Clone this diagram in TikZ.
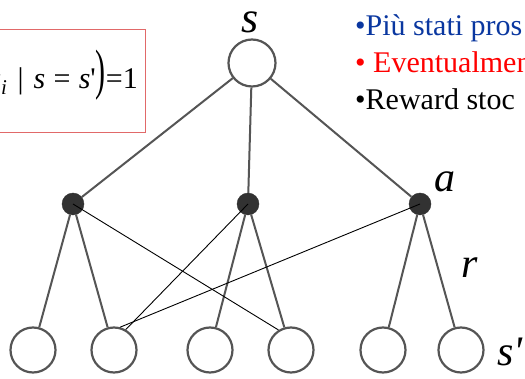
\documentclass[tikz,border=0pt]{standalone}
\usepackage{fontspec}
\setmainfont{Liberation Serif}
\usepackage{graphicx}
\definecolor{edgegray}{RGB}{85,85,85}
\definecolor{actfill}{RGB}{50,50,50}
\definecolor{boxred}{RGB}{225,105,105}
\definecolor{txtblue}{RGB}{10,55,160}
\definecolor{txtred}{RGB}{255,0,0}
\begin{document}
\begin{tikzpicture}[x=1pt,y=-1pt,
  tedge/.style={draw=edgegray, line width=2pt},
  statenode/.style={circle, draw=edgegray, line width=2.2pt, fill=white, minimum size=45pt, inner sep=0pt},
  actnode/.style={circle, fill=actfill, draw=actfill, minimum size=22pt, inner sep=0pt},
  thinline/.style={draw=black, line width=0.9pt},
  lbl/.style={font=\fontsize{42}{42}\selectfont\itshape, inner sep=0pt},
  bul/.style={font=\fontsize{30}{36}\selectfont, anchor=base west, inner sep=0pt}]
\useasboundingbox (0,0) rectangle (525,379);
\clip (0,0) rectangle (525,379);
\fill[white] (0,0) rectangle (525,379);

% formula box
\node (fbox) [draw=boxred, line width=1pt, minimum width=170pt, minimum height=103pt, anchor=north east, inner sep=0pt] at (146,29) {};
\node (formula) [anchor=base east, inner sep=0pt, font=\fontsize{30}{30}\selectfont] at (138,89)
  {\textit{s}\textsubscript{\textit{i}}\,\,|\,\,\textit{s}\;=\;\textit{s}\textquotesingle\scalebox{1}[1.85]{)}=1};

% bullet text
\node (t1) [bul, text=txtblue] at (355,36) {•Più stati pros};
\node (t2) [bul, text=txtred] at (355,73) {• Eventualmen};
\node (t3) [bul, text=black] at (355,110) {•Reward stoc};

% tree nodes
\node (root) [statenode, minimum size=47pt] at (252,63) {};
\node (a1) [actnode] at (73,204) {};
\node (a2) [actnode] at (248,204) {};
\node (a3) [actnode] at (420,204) {};
\node (l1) [statenode] at (33,350) {};
\node (l2) [statenode] at (114,350) {};
\node (l3) [statenode] at (210,350) {};
\node (l4) [statenode] at (291,350) {};
\node (l5) [statenode] at (383,350) {};
\node (l6) [statenode] at (461,350) {};

% tree edges
\draw[tedge] (root) -- (a1);
\draw[tedge] (root) -- (a2);
\draw[tedge] (root) -- (a3);
\draw[tedge] (a1) -- (l1);
\draw[tedge] (a1) -- (l2);
\draw[tedge] (a2) -- (l3);
\draw[tedge] (a2) -- (l4);
\draw[tedge] (a3) -- (l5);
\draw[tedge] (a3) -- (l6);

% thin crossing lines
\draw[thinline] (a1.center) -- (l4.122);
\draw[thinline] (a2.center) -- (l2.60);
\draw[thinline] (a3.center) -- (l2.75);

% labels
\node (ls) [lbl, font=\fontsize{44}{44}\selectfont\itshape] at (250,22) {s};
\node (la) [lbl] at (445,182) {a};
\node (lr) [lbl] at (470,268) {r};
\node (lsp) [lbl, anchor=base west] at (497,366) {s\textquotesingle};
\end{tikzpicture}
\end{document}
